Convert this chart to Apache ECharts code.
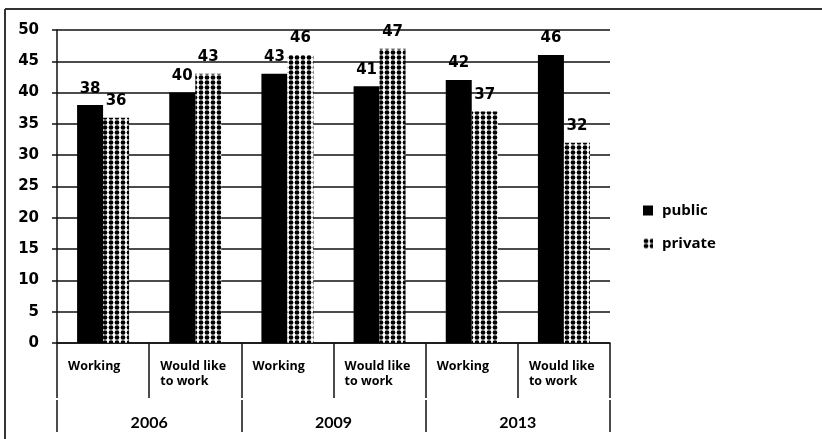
<!DOCTYPE html>
<html>
<head>
<meta charset="utf-8">
<script src="https://cdn.jsdelivr.net/npm/echarts@6/dist/echarts.min.js"></script>
<style>
  html, body { margin: 0; padding: 0; background: #fff; }
  #chart { width: 822px; height: 439px; }
</style>
</head>
<body>
<div id="chart"></div>
<script>
// Share of people working / wishing to work, by sector and survey year
const categories = ['Working', 'Would like\nto work', 'Working', 'Would like\nto work', 'Working', 'Would like\nto work'];
const years = ['2006', '2009', '2013'];
const publicValues = [38, 40, 43, 41, 42, 46];
const privateValues = [36, 43, 46, 47, 37, 32];
const yTicks = { min: 0, max: 50, interval: 5 };

// Dotted fill used for the "private" series
function dotPattern() {
  const c = document.createElement('canvas');
  c.width = 6;
  c.height = 5;
  const ctx = c.getContext('2d');
  ctx.fillStyle = '#fff';
  ctx.fillRect(0, 0, 6, 5);
  ctx.fillStyle = '#000';
  ctx.beginPath();
  ctx.arc(3, 2.5, 2.35, 0, Math.PI * 2);
  ctx.fill();
  return c;
}

const ink = '#111';
const chart = echarts.init(document.getElementById('chart'));

const labelStyle = {
  show: true,
  position: 'top',
  distance: 9,
  color: '#000',
  fontFamily: 'DejaVu Sans',
  fontWeight: 'bold',
  fontSize: 15
};

chart.setOption({
  animation: false,
  backgroundColor: '#fff',
  grid: { left: 57, right: 212, top: 30, bottom: 96, containLabel: false },
  legend: {
    orient: 'vertical',
    left: 638,
    top: 198,
    itemWidth: 10,
    itemHeight: 10,
    itemGap: 18,
    icon: 'rect',
    textStyle: { fontFamily: 'Open Sans', fontWeight: 'bold', fontSize: 15, color: '#000', padding: [0, 0, 0, 4] },
    data: ['public', 'private']
  },
  xAxis: [
    {
      type: 'category',
      data: categories,
      position: 'bottom',
      axisLine: { show: true, lineStyle: { color: ink, width: 1.5 } },
      axisTick: { show: true, length: 55, lineStyle: { color: ink, width: 1.5 } },
      axisLabel: {
        margin: 16,
        interval: 0,
        formatter: function (v) { return '{t|' + v + '}'; },
        rich: {
          t: {
            fontFamily: 'Open Sans',
            fontWeight: 'bold',
            fontSize: 12.5,
            lineHeight: 15,
            color: '#000',
            align: 'left',
            width: 70
          }
        }
      },
      splitLine: { show: false }
    },
    {
      type: 'category',
      data: years,
      position: 'bottom',
      offset: 57,
      axisLine: { show: false },
      axisTick: { show: true, length: 32, lineStyle: { color: ink, width: 1.5 } },
      axisLabel: {
        margin: 15,
        interval: 0,
        fontFamily: 'Lato',
        fontWeight: 'bold',
        fontSize: 16,
        color: '#000'
      },
      splitLine: { show: false }
    }
  ],
  yAxis: {
    type: 'value',
    min: yTicks.min,
    max: yTicks.max,
    interval: yTicks.interval,
    axisLine: { show: true, lineStyle: { color: ink, width: 1.5 } },
    axisTick: { show: true, length: 5, lineStyle: { color: ink, width: 1.5 } },
    axisLabel: {
      margin: 18,
      fontFamily: 'DejaVu Sans',
      fontWeight: 'bold',
      fontSize: 15,
      color: '#000'
    },
    splitLine: { show: true, lineStyle: { color: ink, width: 1.5 } }
  },
  series: [
    {
      name: 'public',
      type: 'bar',
      xAxisIndex: 0,
      data: publicValues,
      barWidth: 26,
      barGap: '0%',
      itemStyle: { color: '#000' },
      label: labelStyle
    },
    {
      name: 'private',
      type: 'bar',
      xAxisIndex: 0,
      data: privateValues,
      barWidth: 26,
      barGap: '0%',
      itemStyle: { color: { image: dotPattern(), repeat: 'repeat' } },
      label: labelStyle
    }
  ],
  graphic: [
    { type: 'line', shape: { x1: 5, y1: 9, x2: 822, y2: 9 }, style: { stroke: '#333', lineWidth: 2 } },
    { type: 'line', shape: { x1: 5, y1: 9, x2: 5, y2: 439 }, style: { stroke: '#333', lineWidth: 2 } }
  ]
});
</script>
</body>
</html>
